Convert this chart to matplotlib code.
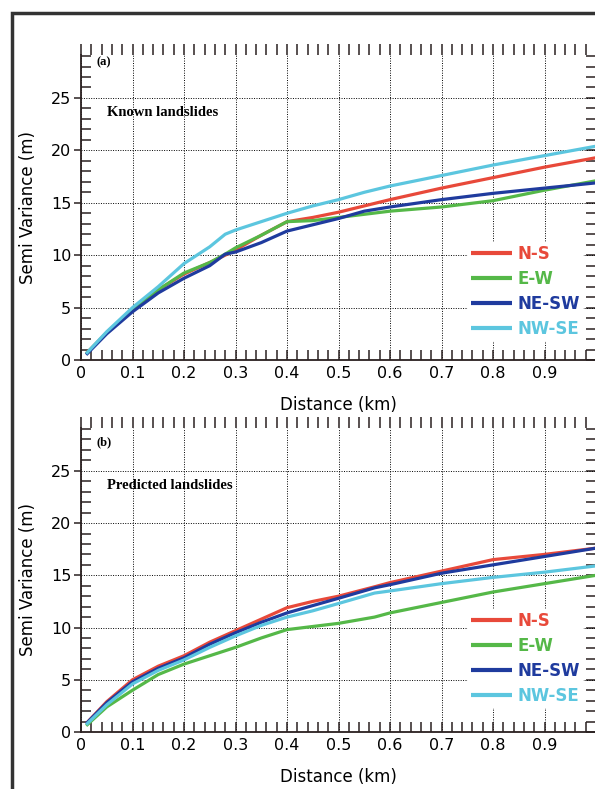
import matplotlib
matplotlib.use("Agg")
import matplotlib.pyplot as plt
from matplotlib.ticker import MultipleLocator
from matplotlib.patches import Rectangle

# ---- data ----
series_names = ["N-S", "E-W", "NE-SW", "NW-SE"]
series_colors = ["#e8493a", "#55b848", "#1f3b9e", "#5cc6df"]

# panel (a) Known landslides
dist_a = [0.01, 0.05, 0.1, 0.15, 0.2, 0.25, 0.28, 0.3, 0.35, 0.4, 0.45, 0.5, 0.55, 0.6, 0.7, 0.8, 0.9, 1.0]
ns_a   = [0.6, 2.6, 4.8, 6.7, 8.2, 9.3, 10.0, 10.5, 11.9, 13.2, 13.6, 14.1, 14.7, 15.3, 16.4, 17.4, 18.4, 19.3]
ew_a   = [0.6, 2.6, 4.8, 6.7, 8.3, 9.3, 10.1, 10.7, 11.9, 13.2, 13.3, 13.6, 13.9, 14.2, 14.6, 15.2, 16.2, 17.1]
nesw_a = [0.5, 2.5, 4.6, 6.4, 7.8, 9.0, 10.1, 10.3, 11.2, 12.3, 12.9, 13.5, 14.2, 14.6, 15.3, 15.9, 16.4, 16.9]
nwse_a = [0.6, 2.7, 5.0, 7.0, 9.2, 10.8, 12.0, 12.4, 13.2, 14.0, 14.7, 15.3, 16.0, 16.6, 17.6, 18.6, 19.5, 20.4]

# panel (b) Predicted landslides
dist_b = [0.01, 0.05, 0.1, 0.15, 0.2, 0.25, 0.3, 0.35, 0.4, 0.45, 0.5, 0.57, 0.6, 0.7, 0.8, 0.9, 1.0]
ns_b   = [0.8, 2.9, 5.0, 6.3, 7.3, 8.6, 9.7, 10.8, 11.9, 12.5, 13.0, 13.9, 14.3, 15.4, 16.5, 17.0, 17.6]
ew_b   = [0.6, 2.4, 4.0, 5.5, 6.5, 7.3, 8.1, 9.0, 9.8, 10.1, 10.4, 11.0, 11.4, 12.4, 13.4, 14.2, 15.0]
nesw_b = [0.8, 2.8, 4.8, 6.1, 7.1, 8.4, 9.5, 10.5, 11.4, 12.1, 12.8, 13.8, 14.1, 15.2, 16.0, 16.8, 17.6]
nwse_b = [0.7, 2.6, 4.6, 5.9, 6.9, 8.1, 9.2, 10.2, 11.0, 11.6, 12.3, 13.3, 13.5, 14.2, 14.8, 15.3, 15.9]

x_ticks = [0, 0.1, 0.2, 0.3, 0.4, 0.5, 0.6, 0.7, 0.8, 0.9]
x_tick_labels = ["0", "0.1", "0.2", "0.3", "0.4", "0.5", "0.6", "0.7", "0.8", "0.9"]
y_ticks = [0, 5, 10, 15, 20, 25]
y_tick_labels = ["0", "5", "10", "15", "20", "25"]

panel_tags = ["(a)", "(b)"]
panel_titles = ["Known landslides", "Predicted landslides"]

W, H = 595, 789
fig = plt.figure(figsize=(W / 100, H / 100), dpi=100)
fig.patch.set_facecolor("white")

spine_col = "#2a2020"

def make_panel(rect, xs, ys_list, tag, title, tag_y, title_y, leg_y):
    ax = fig.add_axes(rect)
    for ys, name, col in zip(ys_list, series_names, series_colors):
        ax.plot(xs, ys, color=col, lw=2.3, label=name, solid_capstyle="butt", zorder=3)
    ax.set_xlim(0, 1.0)
    ax.set_ylim(0, 29.1)
    ax.set_xticks(x_ticks)
    ax.set_xticklabels(x_tick_labels)
    ax.set_yticks(y_ticks)
    ax.set_yticklabels(y_tick_labels)
    ax.xaxis.set_minor_locator(MultipleLocator(0.02))
    ax.yaxis.set_minor_locator(MultipleLocator(1))
    ax.grid(True, which="major", color="black", linestyle=(0, (1, 1.5)), linewidth=0.7, zorder=1)
    ax.tick_params(axis="x", which="both", direction="in", length=7, width=1.1,
                   color=spine_col, labelsize=11.5, pad=4, top=False)
    ax.tick_params(axis="y", which="major", direction="out", length=5, width=1.1,
                   color=spine_col, labelsize=11.5, pad=2, right=False)
    ax.tick_params(axis="y", which="minor", direction="in", length=7, width=1.1,
                   color=spine_col, right=False)
    for s in ["top", "right"]:
        ax.spines[s].set_visible(False)
    for s in ["left", "bottom"]:
        ax.spines[s].set_color(spine_col)
        ax.spines[s].set_linewidth(1.3)
    # top ticks
    sx = ax.secondary_xaxis("top")
    sx.xaxis.set_major_locator(MultipleLocator(0.02))
    sx.tick_params(direction="out", length=8, width=1.1, color=spine_col, labeltop=False)
    sx.spines["top"].set_visible(False)
    # right ticks
    sy = ax.secondary_yaxis("right")
    sy.yaxis.set_major_locator(MultipleLocator(1))
    sy.tick_params(direction="in", length=7, width=1.1, color=spine_col, labelright=False)
    sy.spines["right"].set_visible(False)

    ax.set_xlabel("Distance (km)", fontsize=12, labelpad=11)
    ax.set_ylabel("Semi Variance (m)", fontsize=12, labelpad=10)
    ax.text(0.031, tag_y, tag, transform=ax.transAxes, fontsize=9, fontweight="bold",
            family="Liberation Serif", va="center", ha="left")
    ax.text(0.05, title_y, title, transform=ax.transAxes, fontsize=10.5, fontweight="bold",
            family="Liberation Serif", va="center", ha="left")
    leg = ax.legend(loc="center left", bbox_to_anchor=(0.752, leg_y), frameon=True,
                    fancybox=False, borderpad=0.15, handlelength=2.5, handletextpad=0.3,
                    labelspacing=0.42, prop={"size": 12, "weight": "bold"}, borderaxespad=0)
    leg.get_frame().set_edgecolor("white")
    leg.get_frame().set_facecolor("white")
    leg.get_frame().set_alpha(1.0)
    leg.set_zorder(5)
    for txt, col in zip(leg.get_texts(), series_colors):
        txt.set_color(col)
    for line in leg.get_lines():
        line.set_linewidth(3)
    return ax

left = 81 / W
width = 515 / W
# panel a: bottom px 360, top px 55
make_panel([left, 1 - 360 / H, width, 305 / H], dist_a,
           [ns_a, ew_a, nesw_a, nwse_a], panel_tags[0], panel_titles[0],
           tag_y=0.977, title_y=0.81, leg_y=0.226)
# panel b: bottom px 732, top px 428
make_panel([left, 1 - 732 / H, width, 304 / H], dist_b,
           [ns_b, ew_b, nesw_b, nwse_b], panel_tags[1], panel_titles[1],
           tag_y=0.954, title_y=0.8125, leg_y=0.242)

# outer frame
frame = Rectangle((12 / W, -0.05), 1.1, (1 - 13 / H) + 0.05, transform=fig.transFigure,
                  fill=False, edgecolor="#333333", linewidth=2.5, clip_on=False)
fig.add_artist(frame)

fig.savefig("out.png", dpi=100, facecolor="white")
